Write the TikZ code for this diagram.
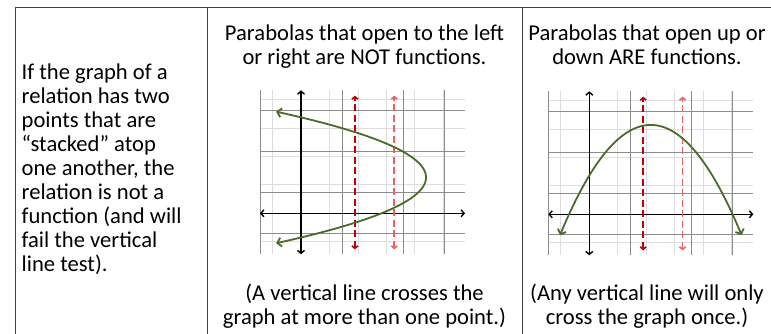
\documentclass[tikz,border=0pt]{standalone}
\usepackage{fontspec}
\setmainfont{Carlito}
\usetikzlibrary{arrows.meta}
\definecolor{rule}{HTML}{404040}
\definecolor{gridlight}{HTML}{DDDDDD}
\definecolor{griddark}{HTML}{8C8C8C}
\definecolor{curve}{HTML}{4A6B2A}
\definecolor{darkred}{HTML}{C00000}
\definecolor{lightred}{HTML}{E06464}

\begin{document}
\begin{tikzpicture}[
  x=1pt, y=-1pt,
  cell/.style={font=\fontsize{22.6}{24}\selectfont, inner sep=0pt, align=center},
  border/.style={draw=rule, line width=1pt},
  minor/.style={draw=gridlight, line width=0.8pt},
  major/.style={draw=griddark, line width=1pt},
  axis/.style={{Straight Barb[length=3pt,width=7pt]}-{Straight Barb[length=3pt,width=7pt]}, line width=1.4pt},
  testline/.style={dash pattern=on 7pt off 3.5pt, line width=1.6pt,
    {Straight Barb[length=2.5pt,width=6pt]}-{Straight Barb[length=2.5pt,width=6pt]}},
  parab/.style={draw=curve, line width=1.8pt,
    {Straight Barb[length=4pt,width=9pt]}-{Straight Barb[length=4pt,width=9pt]}}
]
  \useasboundingbox (0,0) rectangle (771,334);
  % table rules
  \draw[border] (15,334) -- (15,7.5) -- (771,7.5);
  \draw[border] (207,7.5) -- (207,334);
  \draw[border] (522,7.5) -- (522,334);
  % texts
  \node[cell, anchor=north west, align=left] (rule) at (21.5,64)
    {If the graph of a\\relation has two\\points that are\\“stacked” atop\\one another, the\\relation is not a\\function (and will\\fail the vertical\\line test).};
  \node[cell, anchor=north] (lefthead) at (364.5,25) {Parabolas that open to the left\\or right are NOT functions.};
  \node[cell, anchor=north] (leftfoot) at (364.5,284) {(A vertical line crosses the\\graph at more than one point.)};
  \node[cell, anchor=north] (righthead) at (647,25) {Parabolas that open up or\\down ARE functions.};
  \node[cell, anchor=north] (rightfoot) at (647,284) {(Any vertical line will only\\cross the graph once.)};
  % grids, axes and vertical test lines
  \foreach \ox/\oy in {301/213.3, 589.3/214.3} {
    \begin{scope}[shift={(\ox,\oy)}, x=20.5pt, y=20.5pt]
      \draw[minor] (-2,-2) grid (8,6);
      \foreach \gx in {-2,2,5,7} \draw[major] (\gx,-2) -- (\gx,6);
      \foreach \gy in {-1,1,3,5} \draw[major] (-2,\gy) -- (8,\gy);
      \draw[axis] (-2,0) -- (8,0);
      \draw[axis] (0,-2) -- (0,6);
      \draw[testline, darkred] (2.63,-1.76) -- (2.63,5.74);
      \draw[testline, lightred] (4.55,-1.76) -- (4.55,5.74);
    \end{scope}
  }
  % parabola opening to the right
  \begin{scope}[shift={(301,213.3)}, x=20.5pt, y=20.5pt]
    \draw[parab] plot[domain=-1.46:4.96, samples=60, variable=\t] ({6.1-0.71*(\t-1.75)^2}, \t);
  \end{scope}
  % parabola opening down
  \begin{scope}[shift={(589.3,214.3)}, x=20.5pt, y=20.5pt]
    \draw[parab] plot[domain=-1.43:7.43, samples=60] (\x, {4.36-0.274*(\x-3)^2});
  \end{scope}
\end{tikzpicture}
\end{document}
